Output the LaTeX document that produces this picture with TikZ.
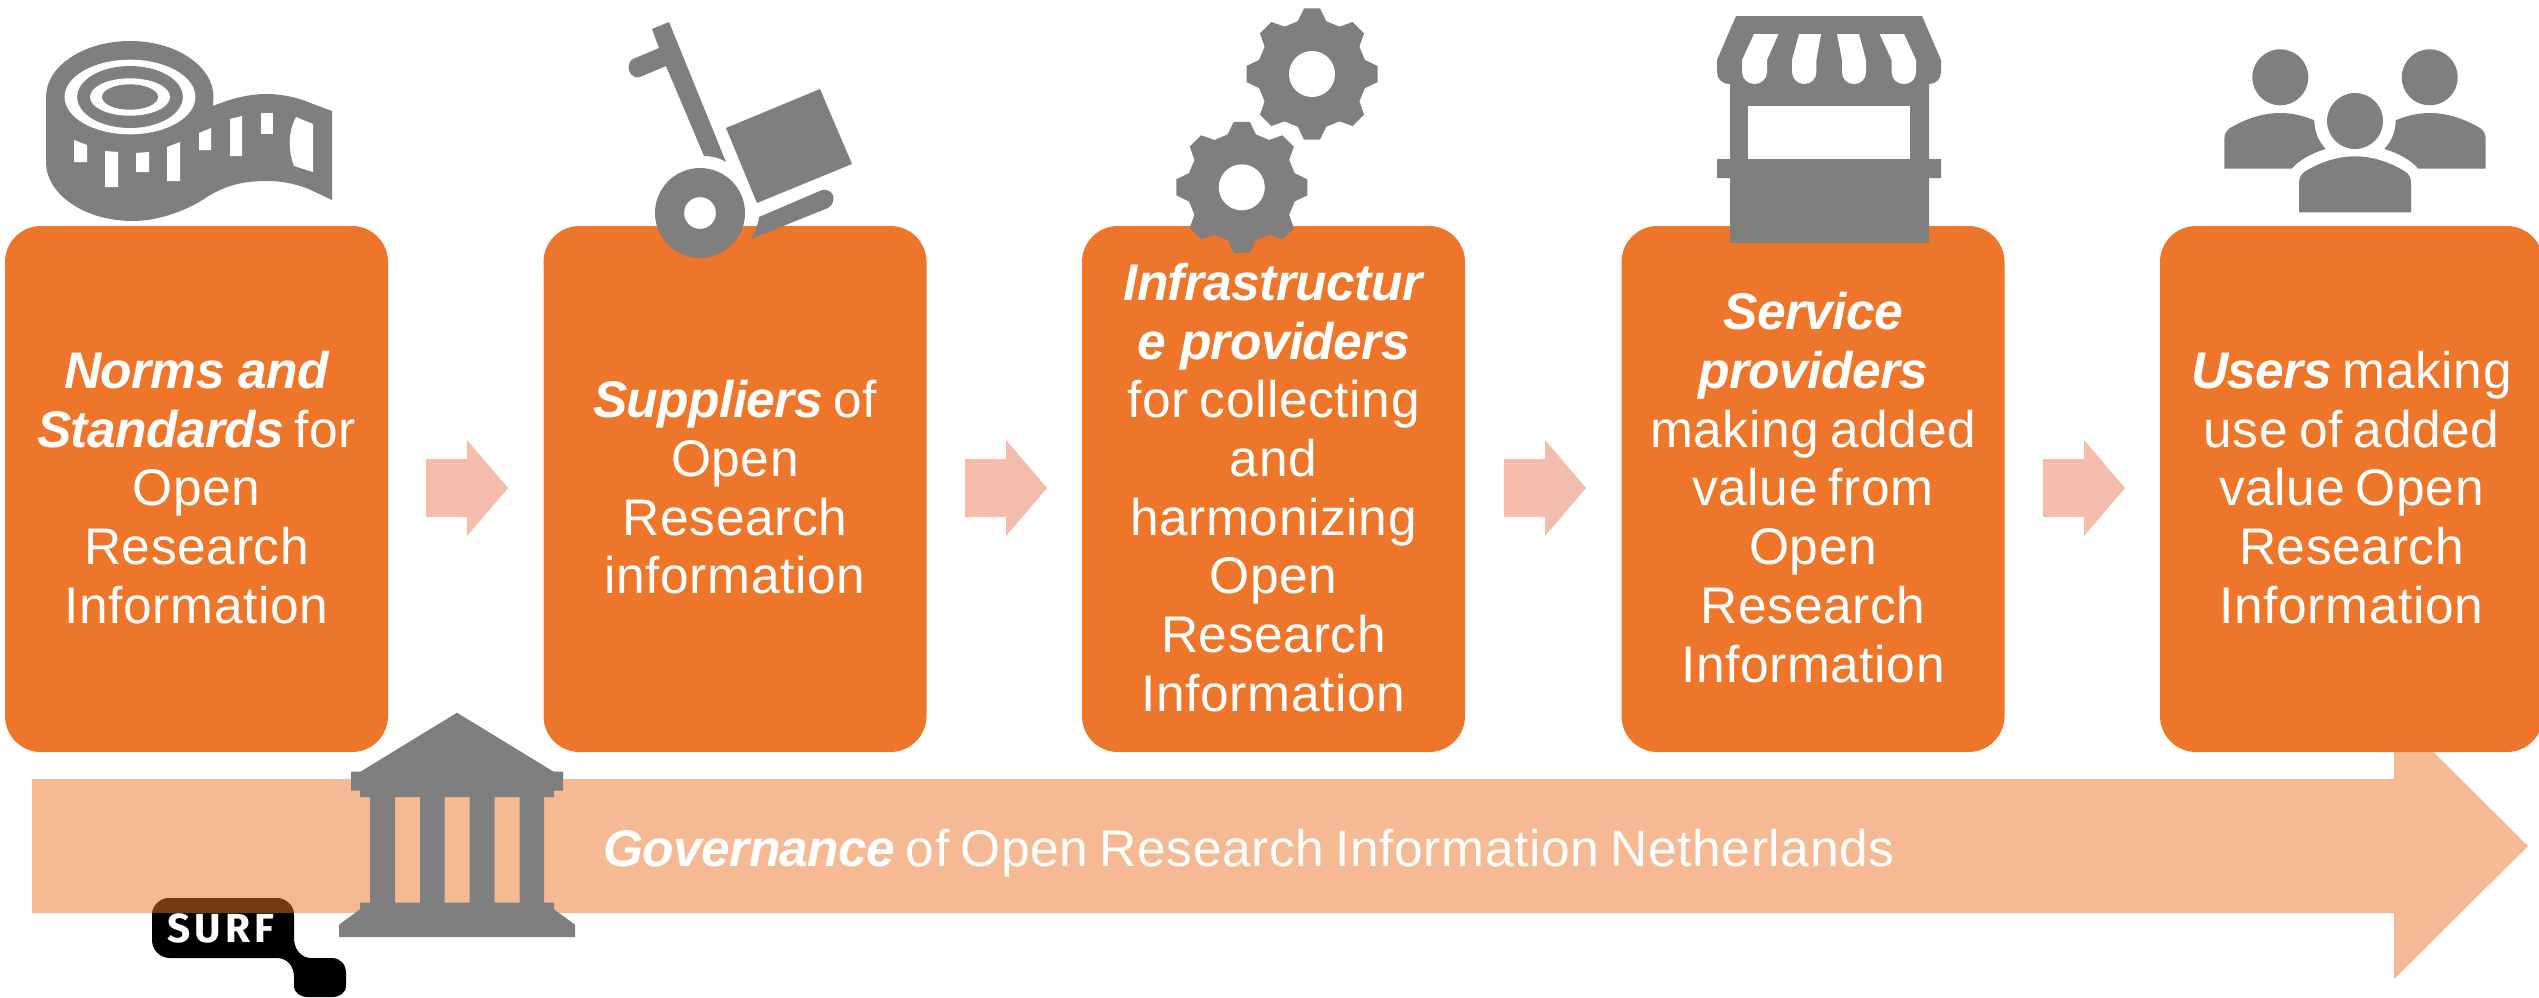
\documentclass[tikz,border=0pt]{standalone}
\usepackage{fontspec}
\setmainfont{Liberation Sans}[LetterSpace=1.2,WordSpace=0.75,BoldItalicFeatures={LetterSpace=-1.2,WordSpace=1}]
\newfontfamily\surffont[LetterSpace=10.5]{Fira Sans}
\definecolor{boxorange}{HTML}{EE762A}
\definecolor{bandorange}{HTML}{F5BA93}
\definecolor{stepsalmon}{HTML}{F4BCAB}
\definecolor{icongrey}{HTML}{7F7F7F}
\definecolor{surfbrown}{HTML}{763A11}
\newcommand{\boldterm}[1]{\textbf{\textit{#1}}}
\newcommand{\linestrut}{\rule[-12.45pt]{0pt}{58.7pt}}

\begin{document}
\begin{tikzpicture}[x=1pt,y=-1pt,
    stepbox/.style={rectangle,fill=boxorange,rounded corners=36pt,inner sep=0pt,
      minimum width=383pt,minimum height=526pt,text=white,align=center,
      font=\fontsize{51.5}{58.7}\selectfont},
    bandtext/.style={inner sep=0pt,anchor=base west,text=white,
      font=\fontsize{51.5}{58.7}\selectfont},
    icon/.style={fill=icongrey},
    hole/.style={fill=white},
    gearicon/.pic={
      \fill[icon] (-7:66pt) \foreach \a in {0,45,...,315} {
          -- (\a-7:66pt) -- (\a+7:66pt) -- (\a+15:54.7pt) -- (\a+30:54.7pt)
        } -- cycle;
      \fill[hole] (0,0) circle (23pt);
    }
    ]
  \useasboundingbox (0,0) rectangle (2539,997);

  % governance arrow
  \fill[bandorange] (32,779) -- (2394,779) -- (2394,713) -- (2528,846)
    -- (2394,979) -- (2394,913) -- (32,913) -- cycle;
  \node[bandtext] (govtext) at (603,866)
    {\boldterm{Governance} of Open Research Information Netherlands};

  % steps
  \node[stepbox] (norms) at (196.5,489)
    {\linestrut\boldterm{Norms and}\\\linestrut\boldterm{Standards} for\\\linestrut Open\\\linestrut Research\\\linestrut Information};
  \node[stepbox] (suppliers) at (735,489)
    {\linestrut\boldterm{Suppliers} of\\\linestrut Open\\\linestrut Research\\\linestrut information};
  \node[stepbox] (infra) at (1273.5,489)
    {\linestrut\boldterm{Infrastructur}\\\linestrut\boldterm{e providers}\\\linestrut for collecting\\\linestrut and\\\linestrut harmonizing\\\linestrut Open\\\linestrut Research\\\linestrut Information};
  \node[stepbox] (service) at (1813,489)
    {\linestrut\boldterm{Service}\\\linestrut\boldterm{providers}\\\linestrut making added\\\linestrut value from\\\linestrut Open\\\linestrut Research\\\linestrut Information};
  \node[stepbox] (users) at (2351.5,489)
    {\linestrut\boldterm{Users} making\\\linestrut use of added\\\linestrut value Open\\\linestrut Research\\\linestrut Information};

  \foreach \ax in {426,965,1504,2043}
    \fill[stepsalmon] (\ax,459) -- (\ax+41,459) -- (\ax+41,440) -- (\ax+82,488)
      -- (\ax+41,536) -- (\ax+41,517) -- (\ax,517) -- cycle;

  % measuring tape
  \fill[icon] (46,97) .. controls (46,66) and (84,41) .. (130,41)
    .. controls (176,41) and (213.5,66) .. (213.5,97) -- (213,106)
    .. controls (230,99) and (248,94) .. (267,94)
    .. controls (285,94) and (302,99) .. (313,104) -- (332,111) -- (332,200) -- (313,191)
    .. controls (300,185) and (285,181) .. (267,181)
    .. controls (244,181) and (226,185) .. (207,197)
    .. controls (190,209) and (160,221) .. (133,221)
    .. controls (84,221) and (46,194) .. (46,162) -- cycle;
  \fill[hole] (130,97) ellipse (65.4pt and 37.3pt);
  \fill[icon] (130,97) ellipse (52.8pt and 31pt);
  \fill[hole] (130,97) ellipse (40pt and 18.7pt);
  \fill[icon] (130,97) ellipse (28pt and 12.7pt);
  \fill[hole] (74,140) -- (87,145) -- (87,162) -- (74,162) -- cycle;
  \fill[hole] (105,151) -- (118,152) -- (118,187) -- (105,187) -- cycle;
  \fill[hole] (136,153) -- (149,152) -- (149,172) -- (136,172) -- cycle;
  \fill[hole] (167,147) -- (180,142) -- (180,181) -- (167,181) -- cycle;
  \fill[hole] (199,133) -- (211,128) -- (211,150) -- (199,150) -- cycle;
  \fill[hole] (230,119) -- (242,116) -- (242,156) -- (230,156) -- cycle;
  \fill[hole] (261,113) -- (273,113) -- (273,134) -- (261,134) -- cycle;
  \fill[hole] (296,117) -- (313,124) -- (313,172) -- (294,166)
    .. controls (288,150) and (288,132) .. (296,117) -- cycle;

  % hand truck
  \fill[icon] (652,29) -- (669,22) -- (726,162) .. controls (720,158) and (712,156) .. (704,156)
    -- (666,66) -- (640,77) .. controls (633,79) and (627,72) .. (629,65) .. controls (630,61) and (631,60) .. (633,59)
    -- (659,48) -- cycle;
  \fill[icon] (820,89) -- (852,164) -- (757,203) -- (726,128) -- cycle;
  \fill[icon] (700,213) circle (45pt);
  \fill[hole] (700,213) circle (15.8pt);
  \fill[icon] (759,217) -- (822,190) .. controls (828,188) and (835,194) .. (833.5,199)
    .. controls (833,204) and (831,206) .. (828,208) -- (751,239) .. controls (755,232) and (758,225) .. (759,217) -- cycle;

  % gears
  \pic (gearupper) at (1312,74) {gearicon};
  \pic (gearlower) at (1241.8,187.3) {gearicon};

  % market stall
  \fill[icon] (1736,16) -- (1922,16) -- (1941,60) -- (1941,72) .. controls (1941,79) and (1936,84) .. (1929,84)
    -- (1929,159) -- (1941,159) -- (1941,178) -- (1929,178) -- (1929,243) -- (1730,243) -- (1730,178)
    -- (1717,178) -- (1717,159) -- (1730,159) -- (1730,84) .. controls (1722,84) and (1717,79) .. (1717,72)
    -- (1717,60) -- cycle;
  \fill[hole] (1748,106) rectangle (1910,159);
  \fill[hole] (1754,34) -- (1778.5,34) -- (1767,60) -- (1767,72) .. controls (1767,79) and (1761,84) .. (1754.5,84)
    .. controls (1748,84) and (1742,79) .. (1742,72) -- (1742,60) -- cycle;
  \fill[hole] (1799,34) -- (1821,34) -- (1816.4,60) -- (1816.4,72) .. controls (1816.4,79) and (1811,84) .. (1804,84)
    .. controls (1798,84) and (1792,79) .. (1792,72) -- (1792,60) -- cycle;
  \fill[hole] (1837,34) -- (1859,34) -- (1866,60) -- (1866,72) .. controls (1866,79) and (1861,84) .. (1854,84)
    .. controls (1847,84) and (1842,79) .. (1842,72) -- (1842,60) -- cycle;
  \fill[hole] (1879.6,34) -- (1904,34) -- (1916,60) -- (1916,72) .. controls (1916,79) and (1911,84) .. (1904,84)
    .. controls (1897,84) and (1891.6,79) .. (1891.6,72) -- (1891.6,60) -- cycle;

  % people
  \fill[icon] (2280.3,77.3) circle (28pt) (2429.7,77.3) circle (28pt) (2355,121) circle (28pt);
  \fill[icon] (2224.3,168.7) -- (2224.3,140) .. controls (2224.3,134) and (2226,131) .. (2230,128)
    .. controls (2245,119) and (2263,113) .. (2280,113) .. controls (2293,113) and (2304,116) .. (2314.3,120.3)
    .. controls (2314.5,131) and (2318,141) .. (2325.7,149) .. controls (2312,153) and (2299,160) .. (2291.7,168.7) -- cycle;
  \fill[icon] (2485.7,168.7) -- (2485.7,140) .. controls (2485.7,134) and (2484,131) .. (2480,128)
    .. controls (2465,119) and (2447,113) .. (2430,113) .. controls (2417,113) and (2406,116) .. (2395.7,120.3)
    .. controls (2395.5,131) and (2392,141) .. (2384.3,149) .. controls (2398,153) and (2411,160) .. (2418.3,168.7) -- cycle;
  \fill[icon] (2299,212.3) -- (2299,183.3) .. controls (2299,178) and (2301,174) .. (2304.7,171.7)
    .. controls (2320,162) and (2338,156.3) .. (2355,156.3) .. controls (2372,156.3) and (2390,162) .. (2405.3,171.7)
    .. controls (2409,174) and (2411,178) .. (2411,183.3) -- (2411,212.3) -- cycle;

  % bank
  \fill[icon,even odd rule] (457,712.7) -- (553.6,771.7) -- (563,771.7) -- (563,790.7) -- (554,790.7) -- (554,797)
    -- (544,797) -- (544,902.7) -- (554,902.7) -- (554,909.3) -- (575,924.7) -- (575,937) -- (339,937) -- (339,924.7)
    -- (360,909.3) -- (360,902.7) -- (370,902.7) -- (370,797) -- (360,797) -- (360,790.7) -- (351,790.7) -- (351,771.7)
    -- (360.4,771.7) -- cycle
    (395,797) rectangle (420,902.7) (444.6,797) rectangle (469.6,902.7) (494.6,797) rectangle (519.6,902.7);

  % surf logo
  \fill[black] (170,898) -- (276,898) .. controls (286,898) and (294,906) .. (294,916) -- (294,938)
    .. controls (294,950) and (302,958) .. (311,958) -- (332,958) .. controls (340,958) and (346,964) .. (346,973)
    -- (346,985) .. controls (346,993) and (340,997) .. (332,997) -- (308,997) .. controls (300,997) and (294,993) .. (294,985)
    -- (294,977) .. controls (294,966) and (287,958) .. (277,958) -- (170,958) .. controls (160,958) and (152,950) .. (152,940)
    -- (152,916) .. controls (152,906) and (160,898) .. (170,898) -- cycle;
  \fill[surfbrown] (152,913) .. controls (153,905) and (160,898) .. (170,898) -- (276,898)
    .. controls (286,898) and (293,905) .. (294,913) -- cycle;
  \node[inner sep=0pt,anchor=base west,text=white,font=\surffont\bfseries\fontsize{40.6}{44}\selectfont] (surflabel) at (167,942) {SURF};
\end{tikzpicture}
\end{document}
